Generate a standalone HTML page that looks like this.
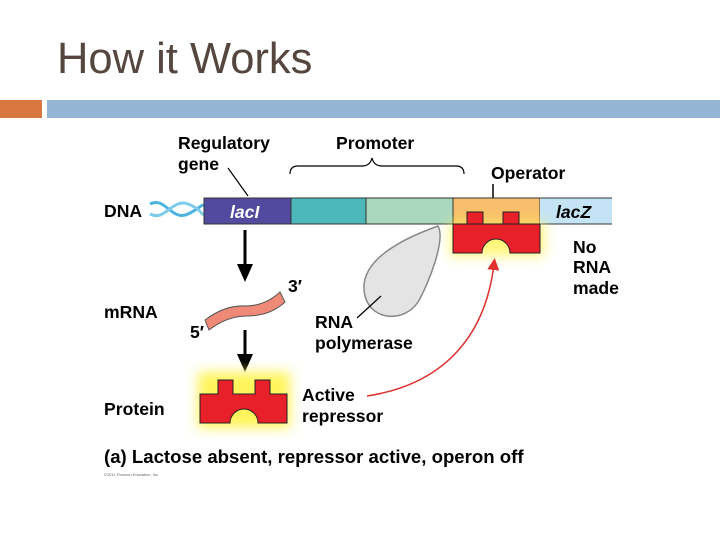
<!DOCTYPE html>
<html><head><style>body{margin:0;background:#fff}svg{display:block}text{font-family:"Liberation Sans",sans-serif}</style></head><body>
<svg width="720" height="540" viewBox="0 0 720 540">
<defs>
<filter id="g" x="-50%" y="-50%" width="200%" height="200%"><feGaussianBlur stdDeviation="6"/></filter>
<marker id="ar" markerWidth="8" markerHeight="8" refX="4" refY="4" orient="auto"><path d="M0,0L8,4L0,8z" fill="#e03030"/></marker>
</defs>
<text x="57" y="73" font-size="43.5" fill="#55463f">How it Works</text>
<rect x="0" y="100" width="42" height="18" fill="#d8773f"/>
<rect x="47" y="100" width="673" height="18" fill="#94b6d4"/>
<g font-size="17.6" font-weight="bold">
<text x="178" y="149">Regulatory</text>
<text x="178" y="170">gene</text>
<text x="336" y="149">Promoter</text>
<text x="491" y="179">Operator</text>
<text x="104" y="217">DNA</text>
<text x="288" y="292">3′</text>
<text x="190" y="338">5′</text>
<text x="104" y="318">mRNA</text>
<text x="315" y="328">RNA</text>
<text x="315" y="349">polymerase</text>
<text x="573" y="253">No</text>
<text x="573" y="273">RNA</text>
<text x="573" y="294">made</text>
<text x="104" y="415">Protein</text>
<text x="302" y="401">Active</text>
<text x="302" y="422">repressor</text>
</g>
<line x1="228" y1="168" x2="248" y2="196" stroke="#000" stroke-width="1.2"/>
<path d="M290,174 q0,-8 8,-8 h64 q8,0 10,-8 q2,8 10,8 h74 q8,0 8,8" fill="none" stroke="#000" stroke-width="1.2"/>
<line x1="493" y1="184" x2="493" y2="198" stroke="#000" stroke-width="1.5"/>
<path d="M150,204 C165,196 172,222 188,214 S200,204 205,206" fill="none" stroke="#4bb3e0" stroke-width="3"/>
<path d="M150,214 C165,222 172,198 188,204 S200,216 205,214" fill="none" stroke="#7dcbea" stroke-width="3"/>
<g stroke="#333" stroke-width="1">
<rect x="204" y="198" width="87" height="26" fill="#514a9f"/>
<rect x="291" y="198" width="75" height="26" fill="#4cb8ba"/>
<rect x="366" y="198" width="87" height="26" fill="#aad8bf"/>
<rect x="453" y="198" width="87" height="26" fill="#f7bf6c"/>
</g>
<rect x="540" y="198" width="72" height="26" fill="#c4e4f5"/>
<line x1="540" y1="198" x2="612" y2="198" stroke="#333"/><line x1="540" y1="224" x2="612" y2="224" stroke="#333"/>
<text x="230" y="218" font-size="17.6" font-weight="bold" font-style="italic" fill="#fff">lacI</text>
<text x="556" y="218" font-size="17.6" font-weight="bold" font-style="italic">lacZ</text>
<path d="M450,222 h94 v34 h-94z" fill="#fff45a" filter="url(#g)" opacity="0.8"/>
<path d="M453,224 h87 v29 h-30 a14,14 0 0 0 -28,0 h-29z M467,224 v-12 h16 v12z M503,224 v-12 h16 v12z" fill="#e8202a" stroke="#222" stroke-width="1"/>
<path d="M438,226 C446,240 428,285 418,302 C405,322 372,322 365,296 C358,268 385,245 438,226z" fill="#e4e4e4" stroke="#888" stroke-width="1.5"/>
<line x1="245" y1="230" x2="245" y2="268" stroke="#000" stroke-width="3"/><path d="M237,264 L245,282 L253,264z"/>
<line x1="245" y1="330" x2="245" y2="358" stroke="#000" stroke-width="3"/><path d="M237,354 L245,372 L253,354z"/>
<path d="M205,320 q20,-15 40,-14 q20,0 35,-14 l5,10 q-15,14 -38,14 q-20,0 -38,14z" fill="#f08a78" stroke="#555" stroke-width="1"/>
<line x1="357" y1="318" x2="381" y2="296" stroke="#000" stroke-width="1.2"/>
<path d="M198,372 h92 v56 h-92z" fill="#fff45a" filter="url(#g)"/>
<path d="M200,394 h18 v-14 h15 v14 h22 v-14 h15 v14 h17 v29 h-29 a14,14 0 0 0 -28,0 h-30z" fill="#e8202a" stroke="#222" stroke-width="1"/>
<path d="M367,396 C440,385 485,340 494,264" fill="none" stroke="#e03030" stroke-width="1.5" marker-end="url(#ar)"/>
<text x="104" y="463" font-size="18.6" font-weight="bold">(a) Lactose absent, repressor active, operon off</text>
<text x="104" y="476" font-size="4" fill="#666">©2011 Pearson Education, Inc.</text>
</svg>
</body></html>
